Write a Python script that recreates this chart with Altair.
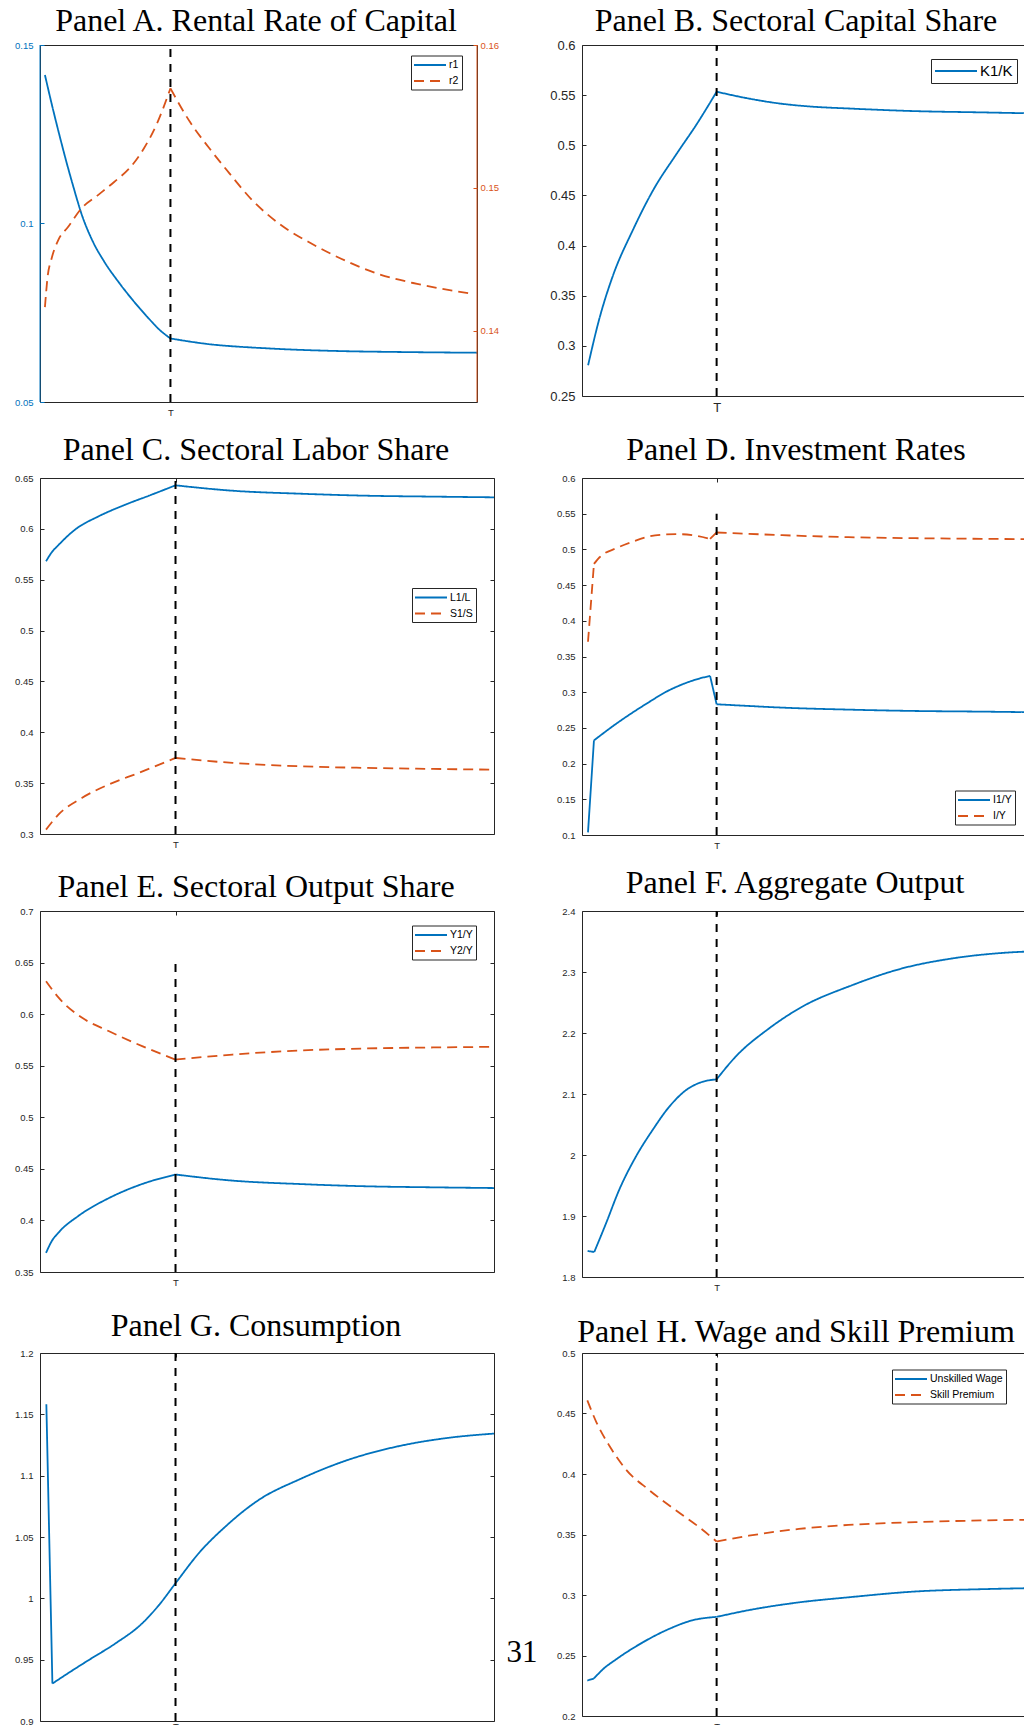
import math
import altair as alt
import pandas as pd

BLUE = "#0072BD"
ORANGE = "#D95319"
AXC = "#262626"
SANS = "Liberation Sans"
SERIF = "Liberation Serif"
T_POS = 29.85

# ---------------- data ----------------
TITLES = ["Panel A. Rental Rate of Capital", "Panel B. Sectoral Capital Share",
          "Panel C. Sectoral Labor Share", "Panel D. Investment Rates",
          "Panel E. Sectoral Output Share", "Panel F. Aggregate Output",
          "Panel G. Consumption", "Panel H. Wage and Skill Premium"]
PAGE_NUMBER = ["31"]

# Panel A
A_R1_T = [1.13, 2.87, 4.52, 5.88, 7.54, 9.58, 12.07, 14.71, 18.10, 21.12, 24.51, 27.38, 29.85, 37.33, 52.41, 67.5, 82.6, 100]
A_R1 = [0.1416, 0.1325, 0.1244, 0.1180, 0.1107, 0.1024, 0.0950, 0.0893, 0.0834, 0.0787, 0.0739, 0.0702, 0.0678, 0.0664, 0.0650, 0.0643, 0.0640, 0.0638]
A_R1_BREAKS = [12]
A_R2_T = [1.13, 1.73, 2.64, 4.15, 6.41, 9.43, 13.2, 16.97, 20.74, 23.76, 26.77, 29.85, 34.3, 38.8, 43.4, 48.6, 54.7, 62.2, 69.8, 77.3, 86.3, 99.2]
A_R2 = [0.14164, 0.14374, 0.14503, 0.14632, 0.14725, 0.14854, 0.14947, 0.15041, 0.15146, 0.15275, 0.15450, 0.15696, 0.15462, 0.15275, 0.15099, 0.14912, 0.14749, 0.14608, 0.14491, 0.14398, 0.14327, 0.14257]
A_R2_BREAKS = [11]
A_LEFT_TICKS = [0.05, 0.1, 0.15]
A_RIGHT_TICKS = [0.14, 0.15, 0.16]

# Panel B
B_T = [1.35, 3.76, 6.76, 11.27, 15.78, 21.04, 25.54, 29.85, 36.06, 43.58, 51.09, 58.6, 73.6, 88.7, 100]
B_K = [0.2806, 0.3256, 0.3688, 0.4154, 0.4553, 0.4919, 0.5218, 0.5534, 0.5474, 0.5418, 0.5385, 0.5368, 0.5341, 0.5328, 0.5318]
B_BREAKS = [7]
B_TICKS = [0.25, 0.3, 0.35, 0.4, 0.45, 0.5, 0.55, 0.6]

# Panel C
C_L_T = [1.33, 2.58, 4.05, 7.7, 12.9, 18.8, 24.0, 29.85, 42.4, 57.1, 71.8, 86.6, 100]
C_L = [0.5681, 0.5769, 0.5840, 0.5992, 0.6123, 0.6238, 0.6326, 0.6428, 0.6375, 0.6346, 0.6326, 0.6317, 0.6310]
C_L_BREAKS = [7]
C_S_T = [1.33, 4.05, 9.2, 15.1, 21.7, 29.85, 42.4, 57.1, 71.8, 86.6, 100]
C_S = [0.3043, 0.3191, 0.3354, 0.3486, 0.3600, 0.3748, 0.3699, 0.3666, 0.3650, 0.3640, 0.3632]
C_S_BREAKS = [5]
C_TICKS = [0.3, 0.35, 0.4, 0.45, 0.5, 0.55, 0.6, 0.65]

# Panel D
D_I1_T = [1.33, 2.65, 7.6, 14.9, 18.6, 22.3, 26.0, 28.4, 29.85, 37.0, 44.4, 59.1, 73.9, 88.6, 100]
D_I1 = [0.1037, 0.2325, 0.2559, 0.2863, 0.3004, 0.3111, 0.3191, 0.3228, 0.2831, 0.2807, 0.2784, 0.2756, 0.2737, 0.2728, 0.2719]
D_I1_BREAKS = [1, 7, 8]
D_I_T = [1.33, 2.65, 3.9, 7.6, 11.3, 14.9, 18.6, 21.6, 25.3, 28.4, 29.85, 37.0, 44.4, 59.1, 73.9, 88.6, 100]
D_I = [0.3706, 0.4797, 0.4890, 0.5017, 0.5110, 0.5181, 0.5209, 0.5213, 0.5190, 0.5148, 0.5237, 0.5218, 0.5199, 0.5171, 0.5157, 0.5148, 0.5143]
D_I_BREAKS = [1, 9, 10]
D_TICKS = [0.1, 0.15, 0.2, 0.25, 0.3, 0.35, 0.4, 0.45, 0.5, 0.55, 0.6]

# Panel E
E_Y1_T = [1.33, 2.58, 4.05, 8.5, 15.1, 22.5, 29.85, 42.4, 57.1, 71.8, 86.6, 100]
E_Y1 = [0.3685, 0.3799, 0.3881, 0.4045, 0.4215, 0.4353, 0.4445, 0.4386, 0.4353, 0.4331, 0.4321, 0.4314]
E_Y1_BREAKS = [6]
E_Y2_T = [1.33, 2.58, 4.05, 9.2, 15.1, 22.5, 29.85, 42.4, 57.1, 71.8, 86.6, 100]
E_Y2 = [0.6319, 0.6244, 0.6162, 0.5967, 0.5836, 0.5690, 0.5559, 0.5608, 0.5647, 0.5667, 0.5677, 0.5683]
E_Y2_BREAKS = [6]
E_TICKS = [0.35, 0.4, 0.45, 0.5, 0.55, 0.6, 0.65, 0.7]

# Panel F
F_T = [1.25, 2.72, 5.3, 8.2, 11.9, 15.6, 19.3, 23.0, 26.6, 29.85, 34.0, 41.4, 48.7, 59.8, 70.8, 81.8, 92.9, 100]
F_Y = [1.8426, 1.8410, 1.8874, 1.9421, 1.9967, 2.0404, 2.0787, 2.1060, 2.1197, 2.1240, 2.1607, 2.2071, 2.2426, 2.2781, 2.3055, 2.3219, 2.3311, 2.3339]
F_BREAKS = [1, 9]
F_TICKS = [1.8, 1.9, 2.0, 2.1, 2.2, 2.3, 2.4]

# Panel G
G_T = [1.4, 2.73, 5.5, 10.7, 16.6, 22.5, 26.2, 29.85, 35.0, 40.9, 48.3, 57.1, 68.2, 79.2, 90.3, 100]
G_C = [1.1583, 0.9305, 0.9373, 0.9496, 0.9632, 0.9796, 0.9945, 1.0123, 1.0369, 1.0587, 1.0805, 1.0969, 1.1133, 1.1242, 1.1310, 1.1343]
G_BREAKS = [1]
G_TICKS = [0.9, 0.95, 1.0, 1.05, 1.1, 1.15, 1.2]

# Panel H
H_W_T = [1.18, 2.65, 4.6, 7.6, 13.5, 19.4, 24.5, 29.85, 37.0, 48.1, 59.1, 73.9, 88.6, 100]
H_W = [0.2293, 0.2310, 0.2385, 0.2469, 0.2609, 0.2721, 0.2791, 0.2819, 0.2875, 0.2939, 0.2981, 0.3029, 0.3048, 0.3057]
H_W_BREAKS = [1, 7]
H_P_T = [1.18, 3.2, 6.1, 9.8, 14.9, 20.8, 26.0, 29.85, 37.0, 48.1, 59.1, 73.9, 88.6, 100]
H_P = [0.4609, 0.4427, 0.4231, 0.4035, 0.3867, 0.3700, 0.3560, 0.3442, 0.3490, 0.3546, 0.3579, 0.3602, 0.3616, 0.3622]
H_P_BREAKS = [7]
H_TICKS = [0.2, 0.25, 0.3, 0.35, 0.4, 0.45, 0.5]

# ---------------- layout ----------------
LEFT_X, RIGHT_X = 40, 582
ROW_Y = [45, 478, 911, 1353]
LW, LW_A, RW = 454, 437, 451
SOLID = [1, 0]
DASH = [10, 6]
LINE_W = 1.8
FMT = ".2~f"


def make_df(series):
    rows = []
    for name, ts, vs, breaks in series:
        cuts = [0] + list(breaks) + [len(ts) - 1]
        for k in range(len(cuts) - 1):
            for i in range(cuts[k], cuts[k + 1] + 1):
                rows.append({"t": ts[i], "v": vs[i], "s": name, "seg": f"{name}-{k}"})
    return pd.DataFrame(rows)


def xscale():
    return alt.Scale(domain=[0, 100], nice=False, zero=False)


def bottom_axis(fs, pad=5):
    return alt.Axis(orient="bottom", values=[T_POS], labelExpr="'T'", ticks=False, domain=False,
                    grid=False, labelPadding=pad, labelFont=SANS, labelFontSize=fs, labelColor=AXC,
                    title=None, labelFlush=False)


def top_axis():
    return alt.Axis(orient="top", values=[T_POS], labels=False, ticks=True, tickSize=4, offset=-4,
                    tickColor=AXC, domain=False, grid=False, title=None)


def left_axis(ticks, fs, color=AXC):
    return alt.Axis(orient="left", values=ticks, format=FMT, offset=-4, tickSize=4, tickColor=color,
                    labelColor=color, labelFont=SANS, labelFontSize=fs, labelPadding=7, domain=False,
                    grid=False, title=None, labelOverlap=False, labelFlush=False)


def right_axis(ticks, labels=False, color=AXC, fs=9.5):
    return alt.Axis(orient="right", values=ticks, labels=labels, format=FMT, offset=-4, tickSize=4,
                    tickColor=color, labelColor=color, labelFont=SANS, labelFontSize=fs, labelPadding=3,
                    domain=False, grid=False, title=None, labelOverlap=False, labelFlush=False)


def make_legend(x, y, fs=10.5, sym=32, rowpad=4, pad=3, gap=3):
    dsize = max(math.ceil(sym / 3 + LINE_W), fs)
    return alt.Legend(title=None, orient="none", legendX=x, legendY=y, direction="vertical",
                      symbolType="M-3,0L3,0", symbolSize=(sym / 3) ** 2, symbolStrokeWidth=LINE_W,
                      symbolOffset=sym / 2 - dsize / 2, labelOffset=sym / 2 + gap - dsize / 2,
                      labelFont=SANS, labelFontSize=fs, labelColor="black", strokeColor=AXC,
                      fillColor="white", padding=pad, rowPadding=rowpad)


def series_layer(series, colors, dashes, yscale, yaxis, xaxis, legend):
    names = [s[0] for s in series]
    return alt.Chart(make_df(series)).mark_line(strokeWidth=LINE_W, clip=True, interpolate="monotone").encode(
        x=alt.X("t:Q", scale=xscale(), axis=xaxis),
        y=alt.Y("v:Q", scale=yscale, axis=yaxis),
        detail="seg:N",
        color=alt.Color("s:N", scale=alt.Scale(domain=names, range=colors), legend=legend),
        strokeDash=alt.StrokeDash("s:N", scale=alt.Scale(domain=names, range=dashes), legend=legend),
    )


def t_rule(lo, hi, yscale, yaxis, xaxis):
    df = pd.DataFrame({"t": [T_POS], "lo": [lo], "hi": [hi]})
    return alt.Chart(df).mark_rule(color="black", strokeWidth=2, strokeDash=[8, 7]).encode(
        x=alt.X("t:Q", scale=xscale(), axis=xaxis),
        y=alt.Y("lo:Q", scale=yscale, axis=yaxis),
        y2="hi:Q",
    )


def title_layer(idx, cx, base, left, top):
    return alt.Chart(pd.DataFrame({"title": [TITLES[idx]]})).mark_text(
        font=SERIF, fontSize=32, baseline="alphabetic", align="center", color="black").encode(
        text="title:N", x=alt.value(cx - left), y=alt.value(base - top))


def panel(idx, cx, base, left, top, w, h, ydom, yticks, series, colors, dashes, lo, hi,
          legend=None, fs=9.5, extra=None, tpad=5):
    yscale = alt.Scale(domain=ydom, nice=False, zero=False)
    lines = series_layer(series, colors, dashes, yscale, left_axis(yticks, fs), bottom_axis(fs, tpad), legend)
    rule = t_rule(lo, hi, yscale, right_axis(yticks), top_axis())
    layers = [lines, rule, title_layer(idx, cx, base, left, top)] + (extra or [])
    return alt.layer(*layers).resolve_axis(x="independent", y="independent").properties(width=w, height=h)


# ---------------- Panel A (two y axes) ----------------
A_H = 357
a_leg = make_legend(371, 10.5)
a_names = ["r1", "r2"]
a_r1 = alt.Chart(make_df([("r1", A_R1_T, A_R1, A_R1_BREAKS)])).mark_line(
    strokeWidth=LINE_W, clip=True, interpolate="monotone").encode(
    x=alt.X("t:Q", scale=xscale(), axis=bottom_axis(9.5)),
    y=alt.Y("v:Q", scale=alt.Scale(domain=[0.05, 0.15], nice=False, zero=False),
            axis=left_axis(A_LEFT_TICKS, 9.5, BLUE)),
    detail="seg:N",
    color=alt.Color("s:N", scale=alt.Scale(domain=a_names, range=[BLUE, ORANGE]), legend=a_leg),
    strokeDash=alt.StrokeDash("s:N", scale=alt.Scale(domain=a_names, range=[SOLID, DASH]), legend=a_leg),
)
a_r2 = alt.Chart(make_df([("r2", A_R2_T, A_R2, A_R2_BREAKS)])).mark_line(
    strokeWidth=LINE_W, clip=True, interpolate="monotone").encode(
    x=alt.X("t:Q", scale=xscale(), axis=None),
    y=alt.Y("v:Q", scale=alt.Scale(domain=[0.135, 0.16], nice=False, zero=False),
            axis=right_axis(A_RIGHT_TICKS, labels=True, color=ORANGE)),
    detail="seg:N",
    color=alt.Color("s:N", scale=alt.Scale(domain=a_names, range=[BLUE, ORANGE]), legend=a_leg),
    strokeDash=alt.StrokeDash("s:N", scale=alt.Scale(domain=a_names, range=[SOLID, DASH]), legend=a_leg),
)
a_rule = t_rule(0.05, 0.15, alt.Scale(domain=[0.05, 0.15], nice=False, zero=False), None, None)
a_left = alt.Chart(pd.DataFrame({"k": [0]})).mark_rule(color=BLUE, strokeWidth=1).encode(
    x=alt.value(0), y=alt.value(0), y2=alt.value(A_H))
a_right = alt.Chart(pd.DataFrame({"k": [0]})).mark_rule(color=ORANGE, strokeWidth=1).encode(
    x=alt.value(LW_A), y=alt.value(0), y2=alt.value(A_H))
pA = alt.layer(a_r1, a_r2, a_rule, a_left, a_right, title_layer(0, 256, 30.5, LEFT_X, ROW_Y[0])).resolve_scale(
    y="independent").resolve_axis(x="independent", y="independent").properties(width=LW_A, height=A_H)

pB = panel(1, 796, 30.5, RIGHT_X, ROW_Y[0], RW, 351, [0.25, 0.6], B_TICKS,
           [("K1/K", B_T, B_K, B_BREAKS)], [BLUE], [SOLID], 0.25, 0.6,
           legend=make_legend(349, 14, fs=15, sym=42, pad=4), fs=13)

pC = panel(2, 256, 460, LEFT_X, ROW_Y[1], LW, 356, [0.3, 0.65], C_TICKS,
           [("L1/L", C_L_T, C_L, C_L_BREAKS), ("S1/S", C_S_T, C_S, C_S_BREAKS)],
           [BLUE, ORANGE], [SOLID, DASH], 0.3, 0.65, legend=make_legend(372, 110))

pD = panel(3, 796, 460, RIGHT_X, ROW_Y[1], RW, 357, [0.1, 0.6], D_TICKS,
           [("I1/Y", D_I1_T, D_I1, D_I1_BREAKS), ("I/Y", D_I_T, D_I, D_I_BREAKS)],
           [BLUE, ORANGE], [SOLID, DASH], 0.1, 0.55, legend=make_legend(373, 312.5))

pE = panel(4, 256, 897, LEFT_X, ROW_Y[2], LW, 361, [0.35, 0.7], E_TICKS,
           [("Y1/Y", E_Y1_T, E_Y1, E_Y1_BREAKS), ("Y2/Y", E_Y2_T, E_Y2, E_Y2_BREAKS)],
           [BLUE, ORANGE], [SOLID, DASH], 0.35, 0.65, legend=make_legend(372, 14.5))

pF = panel(5, 795, 893, RIGHT_X, ROW_Y[2], RW, 366, [1.8, 2.4], F_TICKS,
           [("Y", F_T, F_Y, F_BREAKS)], [BLUE], [SOLID], 1.8, 2.4)

page_num = alt.Chart(pd.DataFrame({"p": PAGE_NUMBER})).mark_text(
    font=SERIF, fontSize=31, baseline="alphabetic", align="center", color="black").encode(
    text="p:N", x=alt.value(522 - LEFT_X), y=alt.value(1662 - ROW_Y[3]))

pG = panel(6, 256, 1336, LEFT_X, ROW_Y[3], LW, 368, [0.9, 1.2], G_TICKS,
           [("C", G_T, G_C, G_BREAKS)], [BLUE], [SOLID], 0.9, 1.2, extra=[page_num], tpad=0)

pH = panel(7, 796, 1342, RIGHT_X, ROW_Y[3], RW, 363, [0.2, 0.5], H_TICKS,
           [("Unskilled Wage", H_W_T, H_W, H_W_BREAKS), ("Skill Premium", H_P_T, H_P, H_P_BREAKS)],
           [BLUE, ORANGE], [SOLID, DASH], 0.2, 0.5, legend=make_legend(310, 16.5))

# the page body is 1016 px wide (8 px margins); the svg must not be wider or it gets rescaled
SVG_W, SVG_H = 1016, 1717
chart = alt.concat(pA, pB, pC, pD, pE, pF, pG, pH, columns=2,
                   spacing={"row": 76, "column": RIGHT_X - LEFT_X - LW}, align="each", bounds="flush").resolve_scale(
    x="independent", y="independent", color="independent", strokeDash="independent").configure_view(
    stroke=AXC, strokeWidth=1).properties(
    autosize=alt.AutoSizeParams(type="none"),
    padding={"left": LEFT_X - 8, "top": ROW_Y[0] - 8, "right": SVG_W - (LEFT_X - 8),
             "bottom": SVG_H - (ROW_Y[0] - 8)},
    background="white")

chart.save("out.html", embed_options={"renderer": "svg", "actions": False})
